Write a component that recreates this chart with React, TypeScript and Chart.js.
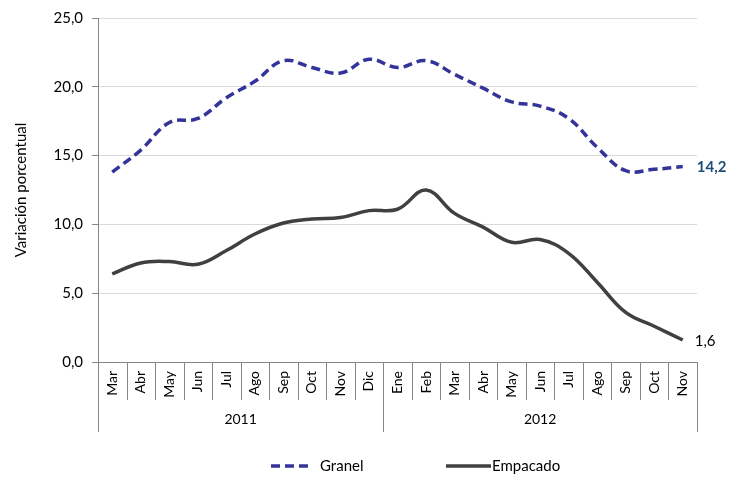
import React, { useEffect, useRef } from "react";
import { Chart, registerables } from "chart.js";

Chart.register(...registerables);

const months = ["Mar", "Abr", "May", "Jun", "Jul", "Ago", "Sep", "Oct", "Nov", "Dic", "Ene", "Feb", "Mar", "Abr", "May", "Jun", "Jul", "Ago", "Sep", "Oct", "Nov"];
const years = ["2011", "2012"];
const yearCounts = [10, 11];
const granel = [13.8, 15.4, 17.4, 17.7, 19.2, 20.4, 21.9, 21.4, 21.0, 22.0, 21.4, 21.9, 20.9, 19.9, 18.9, 18.6, 17.7, 15.6, 13.9, 14.0, 14.2];
const empacado = [6.4, 7.2, 7.3, 7.1, 8.1, 9.3, 10.1, 10.4, 10.5, 11.0, 11.1, 12.5, 10.8, 9.8, 8.7, 8.9, 7.9, 5.8, 3.6, 2.6, 1.6];
const seriesNames = ["Granel", "Empacado"];
const yTicks = [0, 5, 10, 15, 20, 25];

const FONT = "Lato, 'Open Sans', sans-serif";
const BLUE = "#333399";
const GREY = "#404040";

const fmt = (v: number) => v.toFixed(1).replace(".", ",");

const extras = {
  id: "extras",
  afterDraw(chart: any) {
    const ctx = chart.ctx;
    const x = chart.scales.x;
    const y = chart.scales.y;
    const area = chart.chartArea;
    const n = months.length;
    const step = (x.getPixelForValue(1) - x.getPixelForValue(0));
    ctx.save();
    ctx.strokeStyle = "#868686";
    ctx.lineWidth = 1;
    // month separators
    let yearBounds = [0];
    let acc = 0;
    yearCounts.forEach((c) => { acc += c; yearBounds.push(acc); });
    for (let i = 0; i <= n; i++) {
      const px = Math.round(x.getPixelForValue(i) - step / 2) + 0.5;
      const isYear = yearBounds.includes(i);
      ctx.beginPath();
      ctx.moveTo(px, area.bottom);
      ctx.lineTo(px, area.bottom + (isYear ? 70 : 38));
      ctx.stroke();
    }
    // year labels
    ctx.fillStyle = "#000";
    ctx.font = `14px ${FONT}`;
    ctx.textAlign = "center";
    ctx.textBaseline = "middle";
    years.forEach((yr, k) => {
      const a = x.getPixelForValue(yearBounds[k]) - step / 2;
      const b = x.getPixelForValue(yearBounds[k + 1]) - step / 2;
      ctx.fillText(yr, (a + b) / 2, area.bottom + 57);
    });
    // end value labels
    const last = n - 1;
    const lx = x.getPixelForValue(last);
    ctx.textAlign = "left";
    ctx.font = `bold 15px ${FONT}`;
    ctx.fillStyle = "#1F4E79";
    ctx.fillText(fmt(granel[last]), lx + 14, y.getPixelForValue(granel[last]) + 1);
    ctx.font = `15px ${FONT}`;
    ctx.fillStyle = "#000";
    ctx.fillText(fmt(empacado[last]), lx + 12, y.getPixelForValue(empacado[last]) + 1);
    // legend
    const ly = 466;
    ctx.lineWidth = 3.5;
    ctx.strokeStyle = BLUE;
    ctx.setLineDash([9, 5]);
    ctx.beginPath();
    ctx.moveTo(271, ly);
    ctx.lineTo(312, ly);
    ctx.stroke();
    ctx.setLineDash([]);
    ctx.strokeStyle = GREY;
    ctx.beginPath();
    ctx.moveTo(446, ly);
    ctx.lineTo(491, ly);
    ctx.stroke();
    ctx.fillStyle = "#000";
    ctx.font = `15px ${FONT}`;
    ctx.textAlign = "left";
    ctx.fillText(seriesNames[0], 320, ly);
    ctx.fillText(seriesNames[1], 492, ly);
    ctx.restore();
  },
};

export default function App() {
  const ref = useRef<HTMLCanvasElement>(null);
  useEffect(() => {
    if (!ref.current) return;
    const chart = new Chart(ref.current, {
      type: "line",
      data: {
        labels: months,
        datasets: [
          {
            label: seriesNames[0],
            data: granel,
            borderColor: BLUE,
            borderWidth: 3.5,
            borderDash: [9, 5],
            pointRadius: 0,
            tension: 0.4,
            fill: false,
          },
          {
            label: seriesNames[1],
            data: empacado,
            borderColor: GREY,
            borderWidth: 3.5,
            pointRadius: 0,
            tension: 0.4,
            fill: false,
          },
        ],
      },
      options: {
        animation: false,
        responsive: false,
        maintainAspectRatio: false,
        layout: { padding: { top: 17, right: 44, bottom: 0, left: 0 } },
        plugins: { legend: { display: false }, tooltip: { enabled: false } },
        scales: {
          x: {
            type: "category",
            offset: true,
            grid: { display: false, drawTicks: false },
            border: { display: true, color: "#868686" },
            ticks: {
              autoSkip: false,
              maxRotation: 90,
              minRotation: 90,
              padding: 9,
              color: "#000",
              font: { family: FONT, size: 14 },
            },
            afterFit: (s: any) => { s.height = 115; },
          },
          y: {
            min: 0,
            max: 25,
            afterBuildTicks: (s: any) => { s.ticks = yTicks.map((v) => ({ value: v })); },
            grid: { color: "#d9d9d9", tickColor: "#868686", tickLength: 6, drawTicks: true },
            border: { display: true, color: "#868686" },
            ticks: {
              padding: 9,
              color: "#000",
              font: { family: FONT, size: 15 },
              callback: (v: any) => fmt(Number(v)),
            },
            title: {
              display: true,
              text: "Variación porcentual",
              color: "#000",
              font: { family: FONT, size: 15 },
              padding: { top: 12, bottom: 0 },
            },
            afterFit: (s: any) => { s.width = 98; },
          },
        },
      },
      plugins: [extras],
    });
    return () => chart.destroy();
  }, []);
  return (
    <div style={{ position: "fixed", left: 0, top: 0, width: 741, height: 477, background: "#fff" }}>
      <canvas ref={ref} width={741} height={477} style={{ width: 741, height: 477 }} />
    </div>
  );
}
